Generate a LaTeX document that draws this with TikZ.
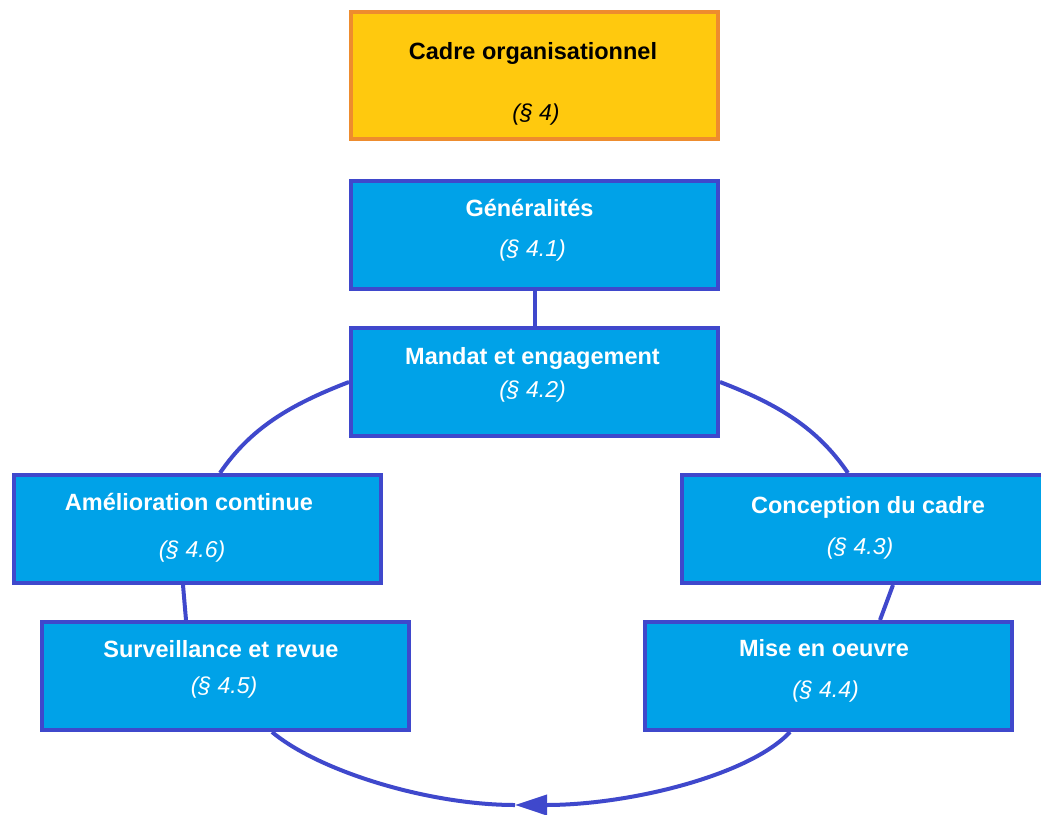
\documentclass[tikz,border=0pt]{standalone}
\usepackage{fontspec}
\setmainfont{Liberation Sans}
\usetikzlibrary{arrows.meta}
\definecolor{boxblue}{HTML}{00A2E8}
\definecolor{indigoline}{HTML}{3F48CC}
\definecolor{goldfill}{HTML}{FFC90E}
\definecolor{orangeline}{HTML}{EE8C2E}
\begin{document}
\begin{tikzpicture}[x=1pt,y=-1pt,
  bluebox/.style={draw=indigoline, fill=boxblue, line width=4pt, minimum width=367pt, minimum height=108pt, inner sep=0pt},
  goldbox/.style={draw=orangeline, fill=goldfill, line width=4pt, minimum width=367pt, minimum height=127pt, inner sep=0pt},
  ttl/.style={anchor=base, font=\fontsize{23.5}{28}\selectfont\bfseries, text=white, inner sep=0pt},
  subtxt/.style={anchor=base, font=\fontsize{23}{28}\selectfont\itshape, text=white, inner sep=0pt},
  conn/.style={draw=indigoline, line width=4pt}]
\useasboundingbox (0,0) rectangle (1041,814);
\fill[white] (0,0) rectangle (1041,814);

% boxes
\node[goldbox] (cadre) at (534.5,75.5) {};
\node[bluebox] (gen) at (534.5,234.5) {};
\node[bluebox] (mandat) at (534.5,382) {};
\node[bluebox] (amel) at (197.5,529) {};
\node[bluebox] (conc) at (865.5,529) {};
\node[bluebox] (surv) at (225,676) {};
\node[bluebox] (mise) at (828.5,676) {};

% texts
\node[ttl, text=black] (cadreT) at (533,59) {Cadre organisationnel};
\node[subtxt, text=black] (cadreS) at (536,120) {(§ 4)};
\node[ttl] (genT) at (529.5,216) {Généralités};
\node[subtxt] (genS) at (532.5,256) {(§ 4.1)};
\node[ttl] (manT) at (532.5,364) {Mandat et engagement};
\node[subtxt] (manS) at (532.5,397) {(§ 4.2)};
\node[ttl] (amelT) at (189,510) {Amélioration continue};
\node[subtxt] (amelS) at (192,557) {(§ 4.6)};
\node[ttl] (concT) at (868,513) {Conception du cadre};
\node[subtxt] (concS) at (860,554) {(§ 4.3)};
\node[ttl] (survT) at (221,657) {Surveillance et revue};
\node[subtxt] (survS) at (224,693) {(§ 4.5)};
\node[ttl] (miseT) at (824,656) {Mise en oeuvre};
\node[subtxt] (miseS) at (825.5,697) {(§ 4.4)};

% connectors
\draw[conn] (gen.south) -- (mandat.north);
\draw[conn] (mandat.west) .. controls +(-60,23) and +(30,-44) .. ([xshift=22.5pt]amel.north);
\draw[conn] (mandat.east) .. controls +(60,23) and +(-30,-44) .. ([xshift=-17.5pt]conc.north);
\draw[conn] ([xshift=-14.5pt]amel.south) -- ([xshift=-39pt]surv.north);
\draw[conn] ([xshift=27.5pt]conc.south) -- ([xshift=51.5pt]mise.north);
\coordinate (tip) at (515,805);
\draw[conn, -{Triangle[length=32pt,width=20pt]}] ([xshift=-38.5pt]mise.south) .. controls +(-40,43) and +(115,0) .. (tip);
\draw[conn] (tip) .. controls +(-85,0) and +(48,40) .. ([xshift=47pt]surv.south);
\end{tikzpicture}
\end{document}
